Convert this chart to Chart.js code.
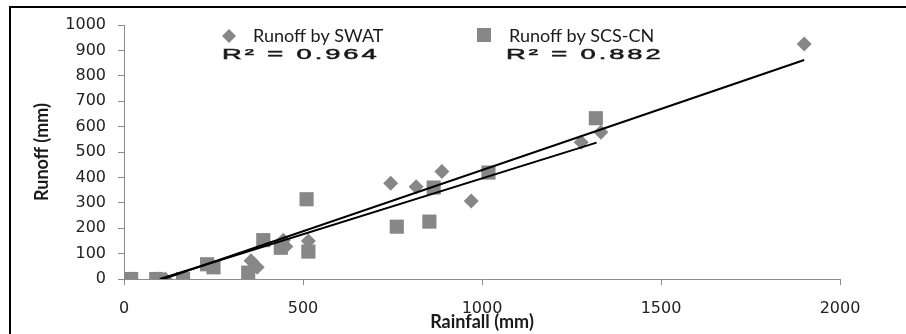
<!DOCTYPE html>
<html>
<head>
<meta charset="utf-8">
<script src="https://cdn.jsdelivr.net/npm/chart.js@4"></script>
<style>
  body { margin: 0; background: #fff; }
  canvas { display: block; }
</style>
</head>
<body>
<canvas id="grafico" width="906" height="334"></canvas>
<script>
// rainfall (mm) vs runoff (mm)
const swatRain   = [20, 95, 115, 355, 372, 445, 452, 515, 745, 816, 888, 970, 1277, 1332, 1900];
const swatRunoff = [0, 0, 0, 72, 46, 153, 128, 150, 377, 363, 423, 307, 538, 578, 925];

const scsRain   = [20, 90, 165, 232, 250, 347, 389, 438, 510, 515, 762, 853, 865, 1018, 1318];
const scsRunoff = [0, 0, 0, 58, 46, 25, 153, 123, 314, 108, 206, 226, 360, 419, 633];

// linear trendlines (endpoints as drawn)
const swatTrendX = [110, 1900];
const swatTrendY = [0, 862];
const scsTrendX = [100, 1320];
const scsTrendY = [0, 537];

const seriesNames = ['Runoff by SWAT', 'Runoff by SCS-CN'];
const rSquared = ['0.964', '0.882'];

const xTicks = [0, 500, 1000, 1500, 2000];
const yTicks = [0, 100, 200, 300, 400, 500, 600, 700, 800, 900, 1000];

const cinza = '#878787';
const pares = (xs, ys) => xs.map((x, i) => ({ x: x, y: ys[i] }));

// legenda, R², títulos dos eixos e moldura desenhados à mão
const extras = {
    id: 'extras',
    afterDraw(chart) {
        const ctx = chart.ctx;
        const area = chart.chartArea;
        ctx.save();

        // moldura (só topo e esquerda aparecem)
        ctx.strokeStyle = '#000';
        ctx.lineWidth = 2;
        ctx.beginPath();
        ctx.moveTo(10, 334);
        ctx.lineTo(10, 7);
        ctx.lineTo(906, 7);
        ctx.stroke();

        ctx.fillStyle = cinza;
        // diamante
        ctx.beginPath();
        ctx.moveTo(222, 36);
        ctx.lineTo(229, 29);
        ctx.lineTo(236, 36);
        ctx.lineTo(229, 43);
        ctx.closePath();
        ctx.fill();
        // quadrado
        ctx.fillRect(477, 28, 14, 14);

        ctx.fillStyle = '#1a1a1a';
        ctx.textBaseline = 'middle';
        ctx.font = '18px Lato';
        ctx.fillText(seriesNames[0], 253, 36);
        ctx.fillText(seriesNames[1], 509, 36);

        // R² esticado como no original
        ctx.font = '14px "Liberation Sans"';
        ctx.letterSpacing = '1.5px';
        ctx.lineWidth = 0.5;
        ctx.strokeStyle = '#1a1a1a';
        [[222, rSquared[0]], [506, rSquared[1]]].forEach(([x, r]) => {
            ctx.save();
            ctx.translate(x, 55);
            ctx.scale(1.95, 1);
            ctx.fillText('R² = ' + r, 0, 0);
            ctx.strokeText('R² = ' + r, 0, 0);
            ctx.restore();
        });
        ctx.letterSpacing = '0px';

        // títulos dos eixos
        ctx.font = 'bold 18px Lato';
        ctx.textAlign = 'center';
        ctx.fillText('Rainfall (mm)', 482, 322);
        ctx.save();
        ctx.translate(42, (area.top + area.bottom) / 2);
        ctx.rotate(-Math.PI / 2);
        ctx.fillText('Runoff (mm)', 0, 0);
        ctx.restore();

        ctx.restore();
    }
};

const config = {
    type: 'scatter',
    data: {
        datasets: [{
            label: 'SWAT trend',
            data: pares(swatTrendX, swatTrendY),
            showLine: true,
            borderColor: '#000',
            borderWidth: 2,
            pointRadius: 0
        }, {
            label: 'SCS-CN trend',
            data: pares(scsTrendX, scsTrendY),
            showLine: true,
            borderColor: '#000',
            borderWidth: 2,
            pointRadius: 0
        }, {
            label: seriesNames[1],
            data: pares(scsRain, scsRunoff),
            pointStyle: 'rect',
            pointRadius: 10,
            pointBorderWidth: 0,
            backgroundColor: cinza,
            borderColor: cinza
        }, {
            label: seriesNames[0],
            data: pares(swatRain, swatRunoff),
            pointStyle: 'rectRot',
            pointRadius: 7.5,
            pointBorderWidth: 0,
            backgroundColor: cinza,
            borderColor: cinza
        }]
    },
    options: {
        responsive: false,
        animation: false,
        layout: {
            padding: { left: 10, top: 25, right: 66, bottom: 0 }
        },
        plugins: {
            legend: { display: false },
            tooltip: { enabled: false }
        },
        scales: {
            x: {
                type: 'linear',
                min: 0,
                max: 2000,
                afterFit(scale) { scale.height = 55; },
                afterBuildTicks(scale) { scale.ticks = xTicks.map(v => ({ value: v })); },
                grid: { drawOnChartArea: false, tickLength: 6, color: '#8c8c8c' },
                border: { color: '#8c8c8c', width: 1 },
                ticks: {
                    autoSkip: false,
                    maxRotation: 0,
                    padding: 14,
                    color: '#222',
                    font: { family: 'DejaVu Sans', size: 16 },
                    callback: v => String(v)
                }
            },
            y: {
                type: 'linear',
                min: 0,
                max: 1000,
                afterFit(scale) { scale.width = 114; },
                afterBuildTicks(scale) { scale.ticks = yTicks.map(v => ({ value: v })); },
                grid: { drawOnChartArea: false, tickLength: 6, color: '#8c8c8c' },
                border: { color: '#8c8c8c', width: 1 },
                ticks: {
                    autoSkip: false,
                    padding: 12,
                    color: '#222',
                    font: { family: 'DejaVu Sans', size: 16 },
                    callback: v => String(v)
                }
            }
        }
    },
    plugins: [extras]
};

const chart = new Chart(document.getElementById('grafico'), config);
</script>
</body>
</html>
